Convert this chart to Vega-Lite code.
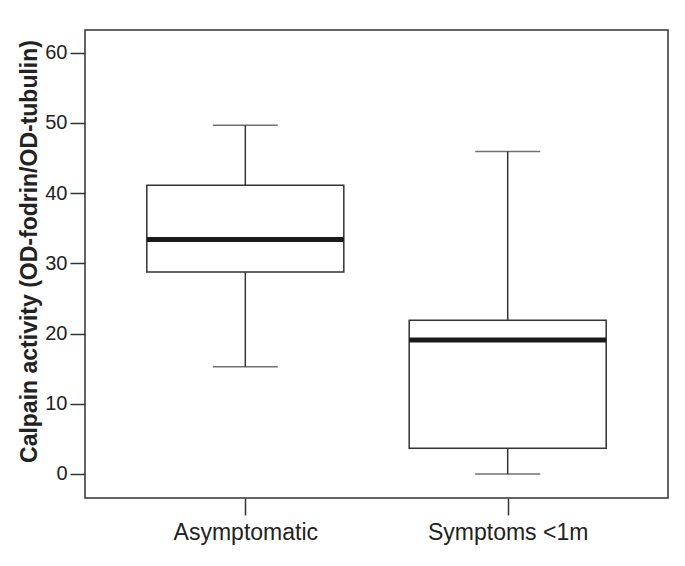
{
  "$schema": "https://vega.github.io/schema/vega-lite/v6.json",
  "autosize": {"type": "none"},
  "width": 583,
  "height": 468,
  "padding": {"left": 85, "top": 30, "right": 17, "bottom": 68},
  "background": "white",
  "config": {
    "view": {"stroke": "#333333", "strokeWidth": 1.5},
    "font": "Liberation Sans"
  },
  "data": {
    "values": [
      {"group": "Asymptomatic", "lower": 15.27, "q1": 28.75, "median": 33.39, "q3": 41.13, "upper": 49.67},
      {"group": "Symptoms <1m", "lower": 0.0, "q1": 3.65, "median": 19.07, "q3": 21.91, "upper": 45.91}
    ]
  },
  "encoding": {
    "x": {
      "field": "group",
      "type": "nominal",
      "sort": null,
      "scale": {"type": "point", "padding": 0.611},
      "axis": {
        "title": null,
        "labelAngle": 0,
        "domain": false,
        "ticks": true,
        "tickSize": 17,
        "tickColor": "#333333",
        "tickWidth": 1.5,
        "labelFontSize": 23,
        "labelColor": "#222222",
        "labelPadding": 6,
        "labelFont": "Liberation Sans"
      }
    }
  },
  "layer": [
    {
      "mark": {"type": "rule", "color": "#333333", "strokeWidth": 1.5},
      "encoding": {
        "y": {
          "field": "lower",
          "type": "quantitative",
          "scale": {"domain": [-3.42, 63.23], "nice": false, "zero": false},
          "axis": {
            "title": "Calpain activity (OD-fodrin/OD-tubulin)",
            "titleFontSize": 23,
            "titleFontWeight": "bold",
            "titleColor": "#222222",
            "titleFont": "Liberation Sans",
            "titleY": 221,
            "titlePadding": 3,
            "values": [0, 10, 20, 30, 40, 50, 60],
            "grid": false,
            "domain": false,
            "tickSize": 15,
            "tickColor": "#333333",
            "tickWidth": 1.5,
            "labelFontSize": 20,
            "labelColor": "#222222",
            "labelPadding": 3,
            "labelFont": "Liberation Sans"
          }
        },
        "y2": {"field": "upper"}
      }
    },
    {
      "mark": {"type": "tick", "color": "#333333", "thickness": 1.5, "size": 65},
      "encoding": {"y": {"field": "lower", "type": "quantitative"}}
    },
    {
      "mark": {"type": "tick", "color": "#333333", "thickness": 1.5, "size": 65},
      "encoding": {"y": {"field": "upper", "type": "quantitative"}}
    },
    {
      "mark": {"type": "bar", "fill": "white", "stroke": "#333333", "strokeWidth": 1.5, "size": 197},
      "encoding": {
        "y": {"field": "q1", "type": "quantitative"},
        "y2": {"field": "q3"}
      }
    },
    {
      "mark": {"type": "tick", "color": "#1a1a1a", "thickness": 5, "size": 197, "opacity": 1},
      "encoding": {"y": {"field": "median", "type": "quantitative"}}
    }
  ]
}
